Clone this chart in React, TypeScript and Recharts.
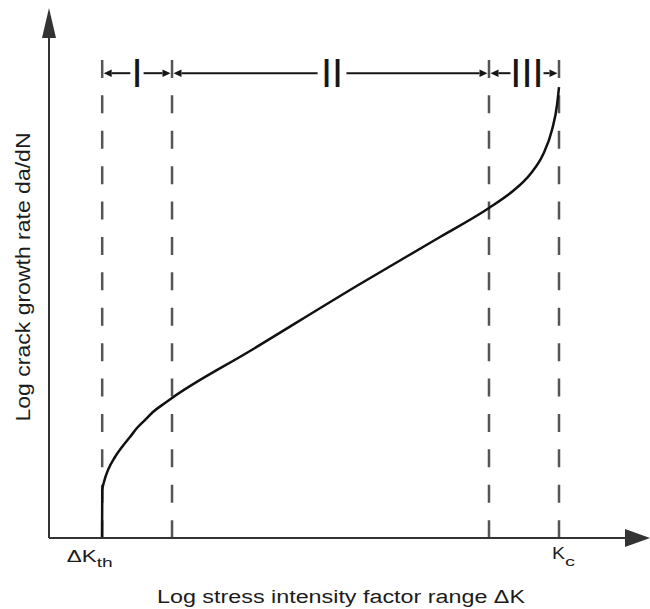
import { Line, LineChart, ReferenceDot, ReferenceLine, XAxis, YAxis } from "recharts";

// curve (log ΔK vs log da/dN, arbitrary 0-100 units)
const logDeltaK = [
  8.82, 8.87, 9.15, 9.82, 10.98, 12.15, 13.48, 14.64, 15.97, 17.3, 19.3, 20.47, 33.44, 51.75, 65.06, 73.21, 77.2,
  78.87, 80.37, 82.2, 83.69, 84.53, 84.86,
];
const logRate = [
  0, 9.06, 10.57, 12.83, 15.28, 17.17, 19.06, 20.75, 22.26, 23.77, 25.47, 26.42, 35.28, 47.92, 56.79, 62.26, 65.47,
  67.13, 69.06, 72.36, 76.98, 81.7, 85.09,
];

// ΔKth, I/II, II/III, Kc
const regionBounds = [8.85, 20.47, 73.21, 84.86];
const regionLabels = ["I", "II", "III"];
const regionLabelX = [14.64, 47.09, 79.53];

const tickValues = [8.85, 84.86];
const tickMain = ["ΔK", "K"];
const tickSub = ["th", "c"];

const xTitle = "Log stress intensity factor range ΔK";
const yTitle = "Log crack growth rate da/dN";

const data = logDeltaK.map((dk, i) => ({ dk, rate: logRate[i] }));

const FONT = "'Liberation Sans', Arial, sans-serif";
const INK = "#161616";
const TEXT = "#1c1c1c";
const ARROW_Y = 87.7;
const DASH_TOP = 90.2;
const LABEL_Y = 85.1;
const gapHalf = [1.1, 2.4, 2.75];
const tipInset = 0.25;

const arrowShape = (headLen: number, headHalf: number, color: string, width: number) => (p: any) => {
  const { x1, y1, x2, y2 } = p;
  const dx = x2 - x1;
  const dy = y2 - y1;
  const len = Math.hypot(dx, dy) || 1;
  const ux = dx / len;
  const uy = dy / len;
  const bx = x2 - ux * headLen;
  const by = y2 - uy * headLen;
  const nx = -uy;
  const ny = ux;
  return (
    <g>
      <line x1={x1} y1={y1} x2={bx} y2={by} stroke={color} strokeWidth={width} />
      <polygon
        points={`${x2},${y2} ${bx + nx * headHalf},${by + ny * headHalf} ${bx - nx * headHalf},${by - ny * headHalf}`}
        fill={color}
      />
    </g>
  );
};

function KTick(props: any) {
  const { x, y, payload } = props;
  const i = tickValues.findIndex((v) => Math.abs(v - payload.value) < 0.01);
  if (i < 0) return null;
  if (i === 0) {
    return (
      <g fill={TEXT} fontFamily={FONT}>
        <text x={x - 35.5} y={y + 23.5} fontSize={17} textLength={30} lengthAdjust="spacingAndGlyphs">
          {tickMain[i]}
        </text>
        <text x={x - 5.5} y={y + 28.5} fontSize={13} textLength={16} lengthAdjust="spacingAndGlyphs">
          {tickSub[i]}
        </text>
      </g>
    );
  }
  return (
    <g fill={TEXT} fontFamily={FONT}>
      <text x={x - 7} y={y + 21} fontSize={17} textLength={13} lengthAdjust="spacingAndGlyphs">
        {tickMain[i]}
      </text>
      <text x={x + 6} y={y + 28} fontSize={13} textLength={10} lengthAdjust="spacingAndGlyphs">
        {tickSub[i]}
      </text>
    </g>
  );
}

export default function App() {
  return (
    <div style={{ position: "absolute", left: 0, top: 0, background: "#fff" }}>
      <LineChart width={650} height={609} data={data} margin={{ top: 8, right: 0, left: 0, bottom: 0 }}>
        <XAxis
          dataKey="dk"
          type="number"
          domain={[0, 100]}
          ticks={tickValues}
          axisLine={false}
          tickLine={false}
          tickSize={0}
          tickMargin={0}
          height={71}
          tick={<KTick />}
          interval={0}
          label={{
            content: (p: any) => (
              <text
                x={p.viewBox.x + p.viewBox.width / 2 - 8.5}
                y={p.viewBox.y + 65}
                textAnchor="middle"
                fontSize={18}
                fontFamily={FONT}
                fill={TEXT}
                textLength={368}
                lengthAdjust="spacingAndGlyphs"
              >
                {xTitle}
              </text>
            ),
          }}
        />
        <YAxis
          type="number"
          domain={[0, 100]}
          width={49}
          axisLine={false}
          tickLine={false}
          tick={false}
          label={{
            content: (p: any) => {
              const cx = p.viewBox.x + 23;
              const cy = p.viewBox.y + p.viewBox.height / 2 + 4;
              return (
                <text
                  x={cx}
                  y={cy}
                  transform={`rotate(-90 ${cx} ${cy})`}
                  textAnchor="middle"
                  dominantBaseline="central"
                  fontSize={20}
                  fontFamily={FONT}
                  fill={TEXT}
                  textLength={289}
                  lengthAdjust="spacingAndGlyphs"
                >
                  {yTitle}
                </text>
              );
            },
          }}
        />

        {regionBounds.map((b) => (
          <ReferenceLine
            key={`d${b}`}
            segment={[{ x: b, y: DASH_TOP }, { x: b, y: 0 }]}
            stroke="#555"
            strokeWidth={2.5}
            strokeDasharray="18 17.4"
            ifOverflow="visible"
          />
        ))}

        {regionLabels.map((lab, i) => [
          <ReferenceLine
            key={`l${i}`}
            segment={[{ x: regionLabelX[i] - gapHalf[i], y: ARROW_Y }, { x: regionBounds[i] + tipInset, y: ARROW_Y }]}
            ifOverflow="visible"
            shape={arrowShape(8, 3.8, INK, 2)}
          />,
          <ReferenceLine
            key={`r${i}`}
            segment={[{ x: regionLabelX[i] + gapHalf[i], y: ARROW_Y }, { x: regionBounds[i + 1] - tipInset, y: ARROW_Y }]}
            ifOverflow="visible"
            shape={arrowShape(8, 3.8, INK, 2)}
          />,
          <ReferenceDot
            key={`t${i}`}
            x={regionLabelX[i]}
            y={LABEL_Y}
            ifOverflow="visible"
            shape={(p: any) => (
              <text x={p.cx} y={p.cy} textAnchor="middle" fontSize={40} fontFamily={FONT} fill={INK}>
                {lab}
              </text>
            )}
          />,
        ])}

        <Line
          dataKey="rate"
          type="monotone"
          stroke="#111"
          strokeWidth={2.5}
          dot={false}
          activeDot={false}
          isAnimationActive={false}
        />

        <ReferenceLine
          segment={[{ x: 0, y: 0 }, { x: 0, y: 100 }]}
          ifOverflow="visible"
          shape={arrowShape(30, 7, "#333", 2)}
        />
        <ReferenceLine
          segment={[{ x: 0, y: 0 }, { x: 100, y: 0 }]}
          ifOverflow="visible"
          shape={arrowShape(25, 9, "#333", 2)}
        />
      </LineChart>
    </div>
  );
}
